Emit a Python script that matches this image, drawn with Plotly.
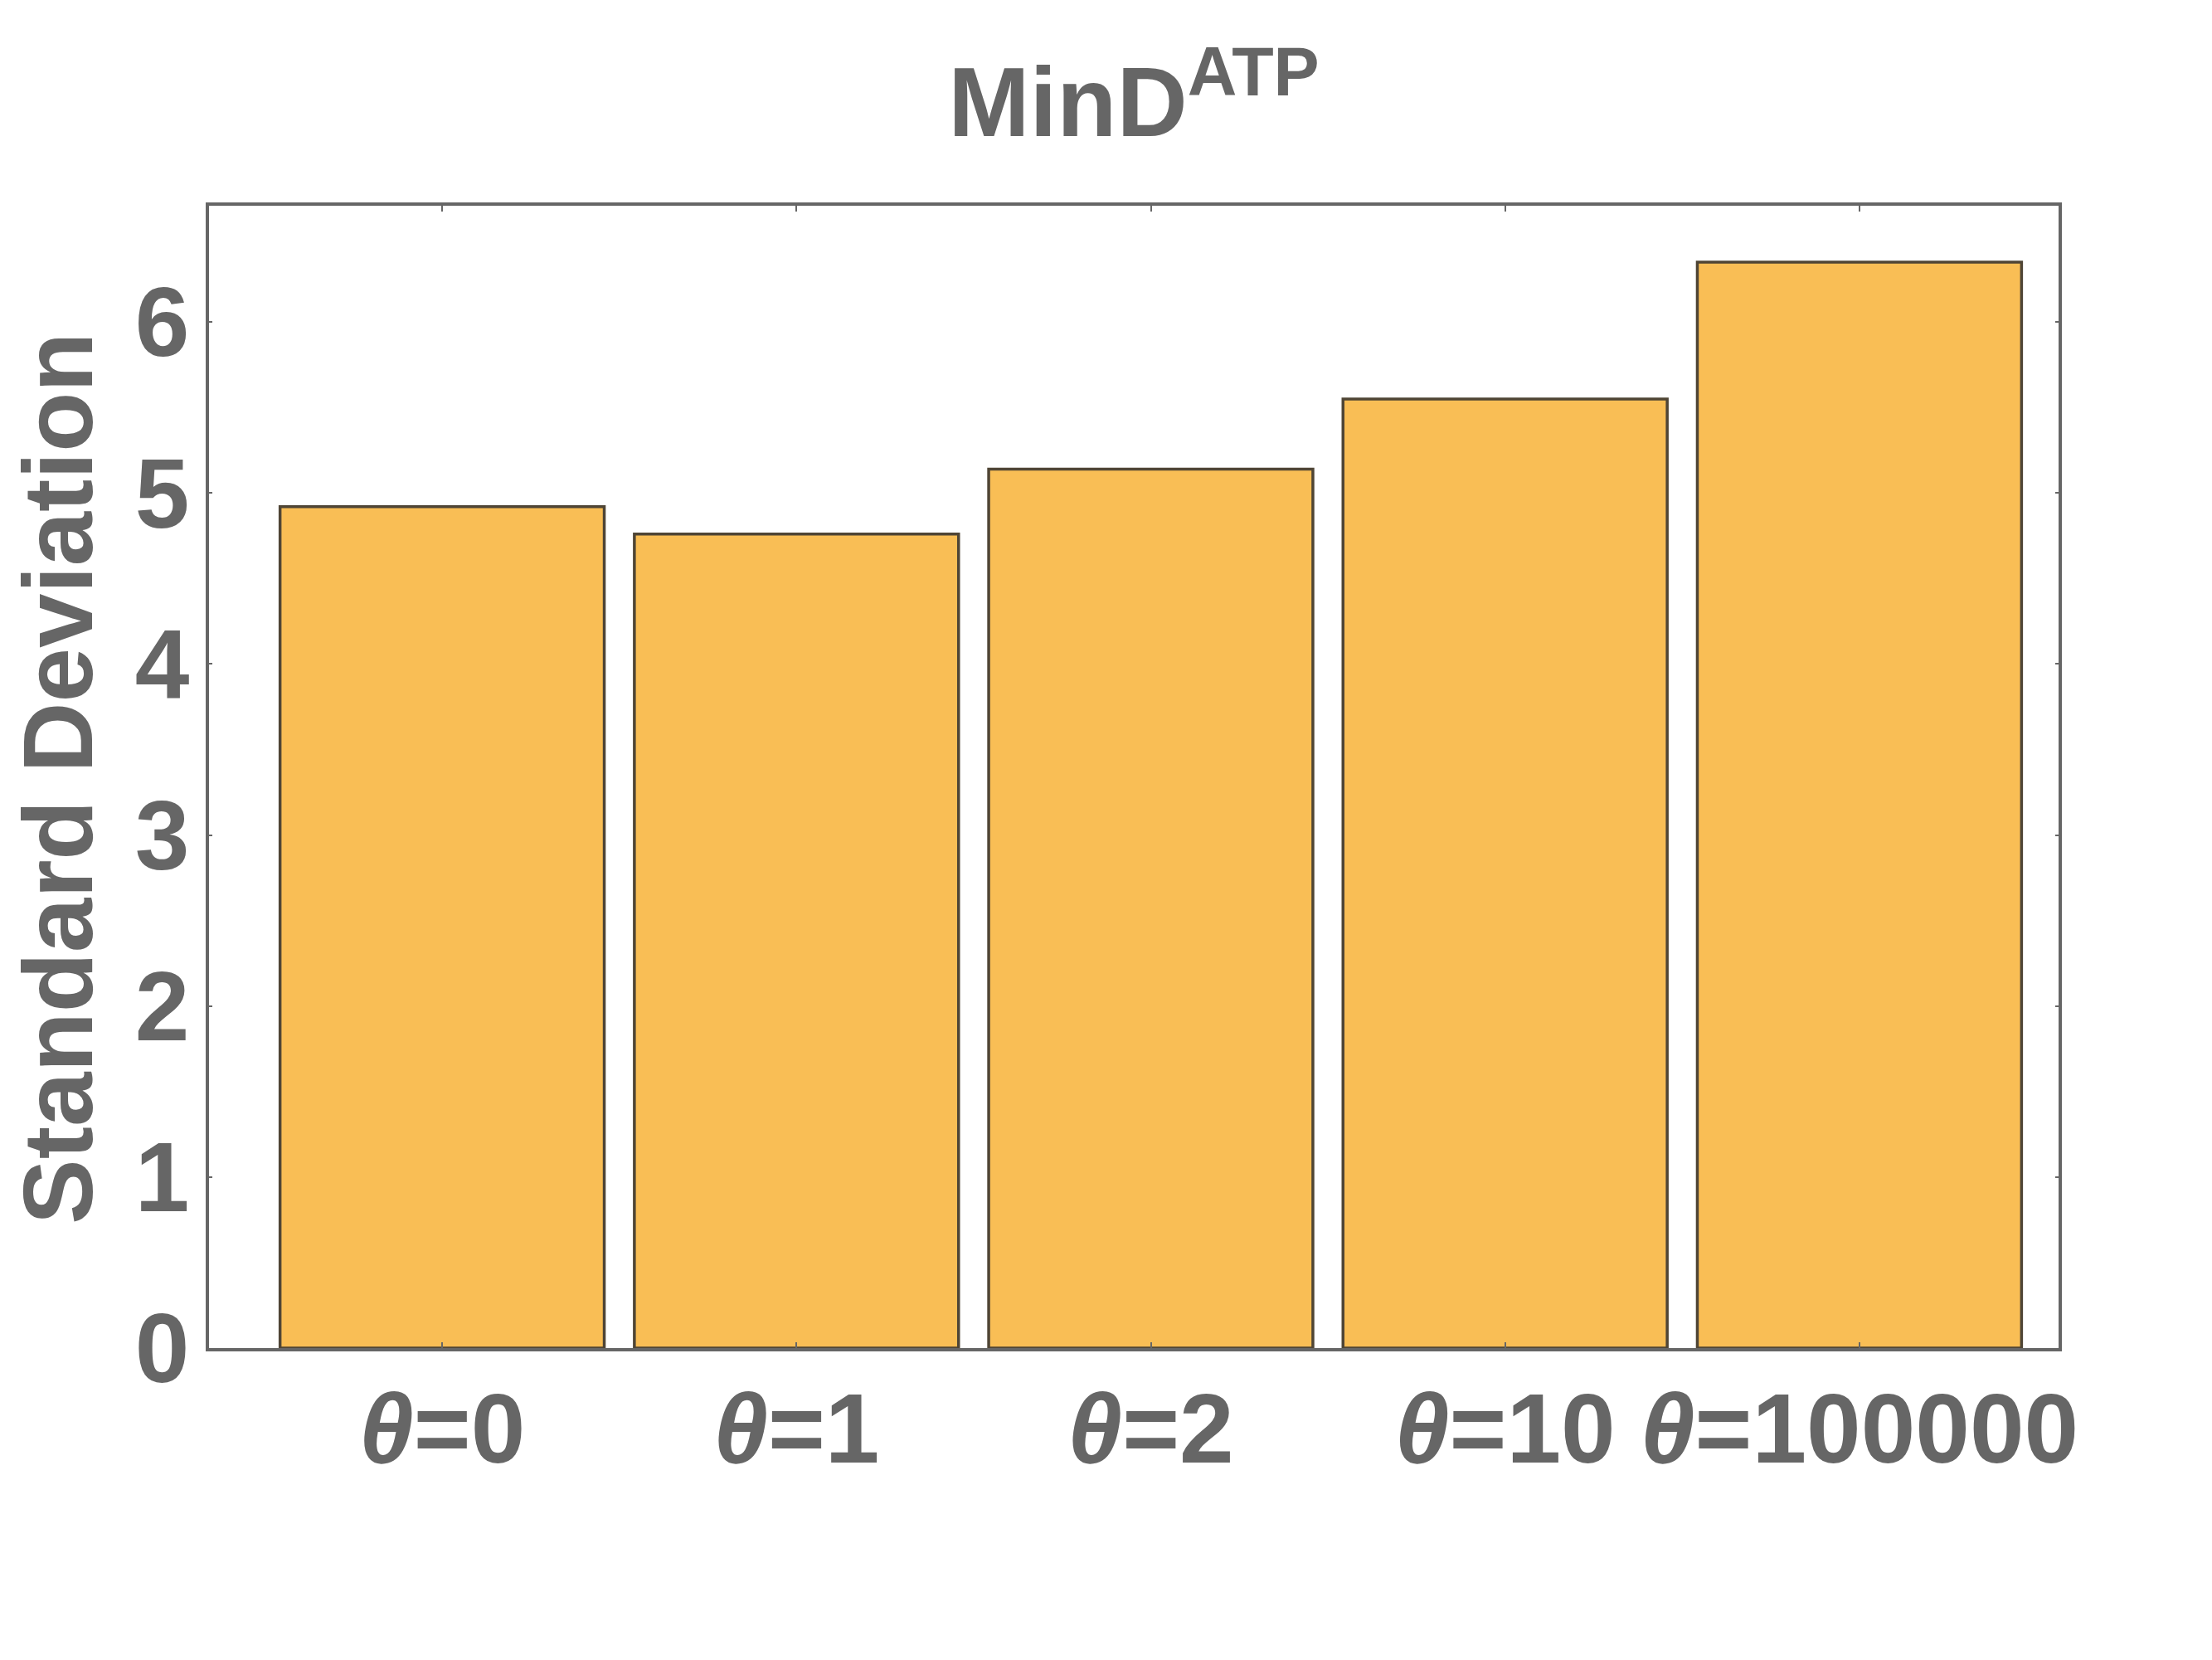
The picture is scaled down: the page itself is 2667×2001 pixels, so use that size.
import plotly.graph_objects as go

categories = ["<i>θ</i>=0", "<i>θ</i>=1", "<i>θ</i>=2", "<i>θ</i>=10", "<i>θ</i>=100000"]
std_dev = [4.92, 4.76, 5.14, 5.55, 6.35]
y_ticks = [0, 1, 2, 3, 4, 5, 6]

GREY = "#666666"
FONT = "Liberation Sans, Arial, sans-serif"

fig = go.Figure()
fig.add_trace(go.Bar(
    x=list(range(len(categories))), y=std_dev,
    width=0.915,
    marker=dict(color="#F9BE55", line=dict(color="#4F4535", width=3.5)),
))

# page body adds ~8px, so the figure is a bit smaller than the window
W, H = 2651, 1985
fig.update_layout(
    width=W, height=H,
    margin=dict(l=244, r=177, t=240, b=368),
    plot_bgcolor="white", paper_bgcolor="white",
    showlegend=False,
    font=dict(family=FONT, color=GREY, size=118),
    title=dict(text="<b>MinD<sup>ATP</sup></b>", x=0.5, xref="paper",
               y=1 - 115 / H, yref="container", yanchor="middle",
               font=dict(size=118, color=GREY, family=FONT)),
)

fig.update_xaxes(
    range=[-0.658, 4.562], tickvals=list(range(len(categories))), ticktext=["<b>%s</b>" % c for c in categories],
    showline=True, linecolor=GREY, linewidth=4, mirror="ticks",
    ticks="inside", ticklen=7, tickwidth=2, tickcolor=GREY,
    showgrid=False, zeroline=False, ticklabelstandoff=-8,
    tickfont=dict(size=118, color=GREY, family=FONT),
)
fig.update_yaxes(
    range=[0, 6.68], tickvals=y_ticks, ticktext=["<b>%d</b>" % v for v in y_ticks],
    showline=True, linecolor=GREY, linewidth=4, mirror="ticks",
    ticks="inside", ticklen=4, tickwidth=2, tickcolor=GREY,
    showgrid=False, zeroline=False, ticklabelstandoff=-4,
    tickfont=dict(size=118, color=GREY, family=FONT),
)

# y axis title placed by hand
fig.add_annotation(
    text="<b>Standard Deviation</b>", textangle=-90,
    xref="paper", yref="paper", x=(62 - 244) / 2230, y=(1617 - 931) / 1377,
    xanchor="center", yanchor="middle", showarrow=False,
    font=dict(size=118, color=GREY, family=FONT),
)

fig.write_html("out.html")
